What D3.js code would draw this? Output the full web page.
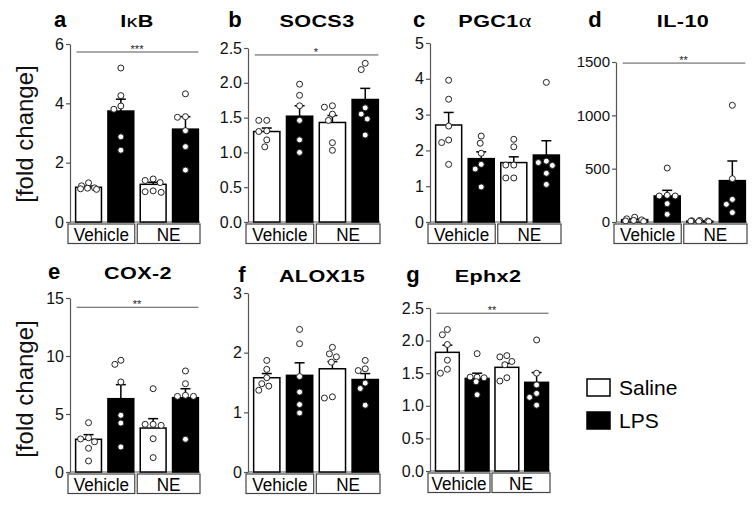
<!DOCTYPE html>
<html><head><meta charset="utf-8">
<script src="https://cdn.jsdelivr.net/npm/d3@7"></script>
<style>body{margin:0;background:#fff}svg{display:block}text{font-family:"Liberation Sans",Arial,sans-serif}</style>
</head><body><svg id="c" width="756" height="508"></svg>
<script>
// ---------- data ----------
const panelLetters = ["a","b","c","d","e","f","g"];
const genes = ["IκB","SOCS3","PGC1α","IL-10","COX-2","ALOX15","Ephx2"];
const groups = ["Saline","LPS","Saline","LPS"];
const treatments = ["Vehicle","NE"];
const yMax = [6, 2.5, 5, 1500, 15, 3, 2.5];
const tickValues = [[0,2,4,6],[0,0.5,1,1.5,2,2.5],[0,1,2,3,4,5],[0,500,1000,1500],[0,5,10,15],[0,1,2,3],[0,0.5,1,1.5,2,2.5]];
const tickFormats = ["d",".1f","d","d","d","d",".1f"];
const means = [
  [1.17,3.74,1.27,3.13],
  [1.30,1.52,1.43,1.76],
  [2.71,1.77,1.66,1.87],
  [22,244,8,388],
  [2.82,6.32,3.79,6.41],
  [1.58,1.62,1.73,1.55],
  [1.82,1.42,1.59,1.36]
];
const sems = [
  [0.04,0.40,0.07,0.42],
  [0.05,0.15,0.10,0.16],
  [0.35,0.19,0.16,0.40],
  [8,53,3,184],
  [0.40,1.21,0.81,0.77],
  [0.07,0.21,0.12,0.10],
  [0.11,0.08,0.06,0.15]
];
const points = [
  [[1.32,1.22,1.15,1.12,1.10,1.14],[5.19,4.26,3.91,3.80,2.87,2.42],[1.45,1.40,1.33,1.05,1.02,1.00],[4.32,3.55,3.53,3.08,2.54,1.75]],
  [[1.46,1.46,1.31,1.30,1.18,1.08],[1.98,1.82,1.67,1.46,1.18,1.00],[1.65,1.67,1.55,1.46,1.14,1.03],[2.28,2.19,1.64,1.55,1.48,1.25]],
  [[3.96,3.43,2.68,2.29,2.22,1.61],[2.40,2.20,1.92,1.61,1.48,0.98],[2.31,2.10,1.59,1.59,1.23,1.23],[3.90,1.70,1.66,1.58,1.36,1.05]],
  [[45,30,20,15,10,5],[506,250,244,244,172,72],[15,12,10,8,5,3],[1094,406,212,166,88]],
  [[4.25,2.95,2.85,2.60,2.05,0.95],[9.63,9.28,7.76,4.89,4.22,2.16],[7.18,4.11,4.11,4.02,2.87,1.24],[8.71,7.61,6.61,6.52,6.52,2.82]],
  [[1.87,1.72,1.58,1.48,1.44,1.37],[2.39,2.15,1.60,1.34,1.13,0.99],[2.09,1.98,1.93,1.84,1.26,1.24],[1.87,1.73,1.70,1.49,1.40,1.12]],
  [[2.17,2.09,1.94,1.70,1.56,1.50],[1.80,1.44,1.44,1.43,1.37,1.17],[1.77,1.75,1.68,1.63,1.43,1.38],[2.01,1.50,1.32,1.19,1.13,1.01]]
];
const sigLabels = ["***","*","","**","**","","**"];
const sigLevels = [5.73, 2.40, null, 1490, 14.2, null, 2.42];
const legendLabels = ["Saline","LPS"];

// ---------- layout ----------
const layout = [
  {x0:70,x1:200,top:44,bottom:222, lx:60,tx:137,ty:27},
  {x0:248,x1:380,top:48,bottom:222, lx:235,tx:317,ty:27},
  {x0:430,x1:561,top:43,bottom:222, lx:419,tx:495,ty:27},
  {x0:616,x1:747,top:62,bottom:222, lx:595,tx:683,ty:27},
  {x0:70,x1:200,top:298,bottom:472, lx:54,tx:138,ty:279},
  {x0:248,x1:380,top:293,bottom:472, lx:242,tx:322,ty:282},
  {x0:430,x1:550,top:308,bottom:471, lx:413,tx:488,ty:282}
];
const svg = d3.select("#c");
const axisCol = "#555";
const R = 3;

function swarm(vals, cx, y, half){
  const placed = [];
  const order = vals.map((v,i)=>({v,i})).sort((a,b)=>b.v-a.v);
  order.forEach(o=>{
    const py = y(o.v);
    let best = 0, bestOv = Infinity;
    for(let k=0;k<2*half+1;k++){
      const cand = (k%2===0? 1:-1)*Math.ceil(k/2);
      if(Math.abs(cand)>half) continue;
      let ov = 0;
      placed.forEach(p=>{const d=Math.hypot(p.x-(cx+cand),p.y-py); if(d<2*R+1.2) ov += (2*R+1.2-d);});
      if(ov<bestOv-0.01){bestOv=ov;best=cand;}
      if(ov===0) break;
    }
    placed.push({x:cx+best,y:py});
  });
  return placed;
}

layout.forEach((L,pi)=>{
  const g = svg.append("g");
  const y = d3.scaleLinear().domain([0,yMax[pi]]).range([L.bottom,L.top]);
  const x = d3.scaleBand().domain(d3.range(4)).range([L.x0+4,L.x1]).paddingInner(0.2).paddingOuter(0.05);

  // titles
  g.append("text").attr("x",L.lx).attr("y",L.ty).attr("text-anchor","middle")
    .attr("font-size",22).attr("font-weight","bold").text(panelLetters[pi]);
  const t = g.append("text").attr("transform",`translate(${L.tx},${L.ty}) scale(1.27,1)`).attr("text-anchor","middle")
    .attr("font-size",17).attr("font-weight","bold").attr("letter-spacing",0.3);
  const name = genes[pi];
  const greek = name.match(/[κα]/);
  if(greek){
    const parts = name.split(greek[0]);
    t.append("tspan").text(parts[0]);
    t.append("tspan").attr("font-weight","normal")
      .attr("font-family", greek[0]==="α" ? "'Liberation Serif','DejaVu Serif',serif" : "'Liberation Sans',sans-serif")
      .attr("font-size", greek[0]==="α"?19:17).text(greek[0]);
    t.append("tspan").text(parts[1]);
  } else t.text(name);

  // y axis
  const ax = g.append("g").attr("transform",`translate(${L.x0},0)`)
    .call(d3.axisLeft(y).tickValues(tickValues[pi]).tickFormat(d3.format(tickFormats[pi])).tickSize(4).tickSizeOuter(0).tickPadding(2));
  ax.select(".domain").attr("stroke",axisCol).attr("stroke-width",1.2);
  ax.selectAll(".tick line").attr("stroke",axisCol).attr("stroke-width",1.2);
  ax.selectAll(".tick text").attr("font-size",pi===3?15:16).attr("fill","#111")
    .attr("font-family","'Liberation Sans',Arial,sans-serif");
  // x baseline
  g.append("line").attr("x1",L.x0).attr("x2",L.x1).attr("y1",L.bottom).attr("y2",L.bottom)
    .attr("stroke",axisCol).attr("stroke-width",1.2);

  // bars
  const bw = x.bandwidth();
  means[pi].forEach((m,i)=>{
    g.append("rect").attr("x",x(i)).attr("y",y(m)).attr("width",bw).attr("height",y(0)-y(m))
      .attr("fill",groups[i]==="LPS"?"#000":"#fff").attr("stroke","#000").attr("stroke-width",1.5);
    const cx = x(i)+bw/2, ye = y(m+sems[pi][i]);
    g.append("line").attr("x1",cx).attr("x2",cx).attr("y1",y(m)).attr("y2",ye).attr("stroke","#000").attr("stroke-width",1.5);
    g.append("line").attr("x1",cx-5).attr("x2",cx+5).attr("y1",ye).attr("y2",ye).attr("stroke","#000").attr("stroke-width",1.5);
  });
  // dots
  points[pi].forEach((vals,i)=>{
    const cx = x(i)+bw/2;
    swarm(vals,cx,y,Math.floor(bw/2-4)).forEach(p=>{
      g.append("circle").attr("cx",p.x).attr("cy",p.y).attr("r",R)
        .attr("fill","#fff").attr("stroke","#222").attr("stroke-width",1);
    });
  });

  // significance
  if(sigLevels[pi]!==null){
    const sy = y(sigLevels[pi]);
    g.append("line").attr("x1",x(0)+1).attr("x2",x(3)+bw).attr("y1",sy).attr("y2",sy)
      .attr("stroke",axisCol).attr("stroke-width",1);
    g.append("text").attr("x",(x(0)+x(3)+bw)/2).attr("y",sy+1).attr("text-anchor","middle")
      .attr("font-size",11).attr("fill","#222").text(sigLabels[pi]);
  }

  // treatment boxes
  const boxes = [
    {a:L.x0-2, b:x(1)+bw+1, label:treatments[0]},
    {a:x(2)-3, b:L.x1, label:treatments[1]}
  ];
  boxes.forEach(bx=>{
    g.append("rect").attr("x",bx.a).attr("y",L.bottom+2).attr("width",bx.b-bx.a).attr("height",19.5)
      .attr("fill","#fff").attr("stroke","#444").attr("stroke-width",1.2);
    const cxm = (bx.a+bx.b)/2;
    g.append("text").attr("transform",`translate(${cxm},${L.bottom+18.5}) scale(0.9,1)`).attr("text-anchor","middle")
      .attr("font-size",19).attr("fill","#000").text(bx.label);
  });
});

// y labels
[134,389].forEach(cy=>{
  svg.append("text").attr("transform",`translate(33,${cy}) rotate(-90)`).attr("text-anchor","middle")
    .attr("font-size",24).attr("fill","#111").text("[fold change]");
});

// legend
legendLabels.forEach((lab,i)=>{
  const ly = 379 + i*33;
  svg.append("rect").attr("x",587).attr("y",ly).attr("width",23).attr("height",17)
    .attr("fill", i===0?"#fff":"#000").attr("stroke","#000").attr("stroke-width",1.5);
  svg.append("text").attr("x",619).attr("y",ly+16).attr("font-size",21).attr("fill","#000").text(lab);
});
</script></body></html>
